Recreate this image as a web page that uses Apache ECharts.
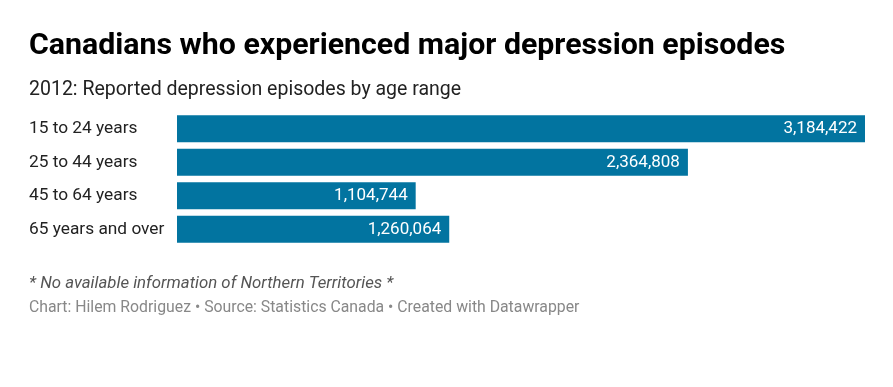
<!DOCTYPE html>
<html><head><meta charset="utf-8">
<script src="https://cdn.jsdelivr.net/npm/echarts@6/dist/echarts.min.js"></script>
<style>html,body{margin:0;padding:0;background:#fff}#c{width:893px;height:387px}</style>
</head><body><div id="c"></div>
<script>
const categories = ['15 to 24 years', '25 to 44 years', '45 to 64 years', '65 years and over'];
const values = [3184422, 2364808, 1104744, 1260064];
const titleText = 'Canadians who experienced major depression episodes';
const subtitleText = '2012: Reported depression episodes by age range';
const noteText = '* No available information of Northern Territories *';
const sourceText = 'Chart: Hilem Rodriguez \u2022 Source: Statistics Canada \u2022 Created with Datawrapper';

const chart = echarts.init(document.getElementById('c'));
chart.setOption({
  animation: false,
  title: [
    {text: titleText, left: 29, top: 31, padding: 0, textStyle: {fontFamily: 'Roboto', fontWeight: 'bold', fontSize: 30.3, color: '#000'}},
    {text: subtitleText, left: 29, top: 80, padding: 0, textStyle: {fontFamily: 'Roboto', fontWeight: 'normal', fontSize: 19.5, color: '#222'}},
    {text: noteText, left: 29, top: 275, padding: 0, textStyle: {fontFamily: 'Roboto', fontStyle: 'italic', fontWeight: 'normal', fontSize: 16.8, color: '#555'}},
    {text: sourceText, left: 29, top: 300, padding: 0, textStyle: {fontFamily: 'Roboto', fontWeight: 'normal', fontSize: 15.8, color: '#888'}}
  ],
  grid: {left: 177, right: 28, top: 112, height: 134, containLabel: false},
  xAxis: {type: 'value', min: 0, max: 3184422, show: false},
  yAxis: {
    type: 'category', data: categories, inverse: true,
    axisLine: {show: false}, axisTick: {show: false},
    axisLabel: {align: 'left', margin: 148, fontFamily: 'Roboto', fontSize: 17.3, color: '#222'}
  },
  series: [{
    type: 'bar', data: values, barCategoryGap: '19%',
    itemStyle: {color: '#0274a0'},
    label: {show: true, position: 'insideRight', distance: 8, color: '#fff', fontFamily: 'Roboto', fontSize: 17,
      formatter: p => p.value.toLocaleString('en-US')}
  }]
});
</script></body></html>
